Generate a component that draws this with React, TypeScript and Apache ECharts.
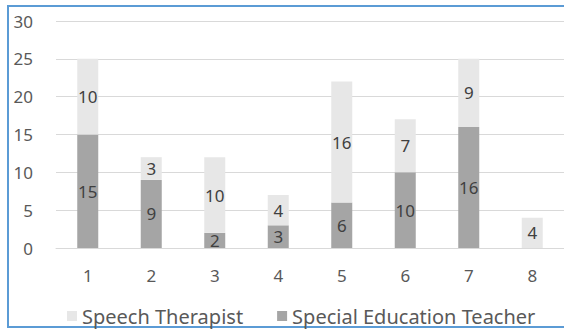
import React, { useEffect, useRef } from "react";
import * as echarts from "echarts";

const categories = ["1", "2", "3", "4", "5", "6", "7", "8"];
const specialEducationTeacher = [15, 9, 2, 3, 6, 10, 16, 0];
const speechTherapist = [10, 3, 10, 4, 16, 7, 9, 4];
const yTicks = { min: 0, max: 30, interval: 5 };

const FONT = "Noto Sans";

export default function App() {
  const ref = useRef<HTMLDivElement>(null);
  useEffect(() => {
    document.body.style.margin = "0";
    const chart = echarts.init(ref.current!, undefined, { renderer: "svg" });
    const label = {
      show: true,
      position: "inside",
      color: "#404040",
      fontFamily: FONT,
      fontSize: 17,
      formatter: (p: any) => (p.value ? String(p.value) : ""),
    };
    chart.setOption({
      animation: false,
      backgroundColor: "#ffffff",
      graphic: [
        {
          type: "rect",
          shape: { x: 8, y: 6, width: 600, height: 321 },
          style: { fill: "none", stroke: "#5B9BD5", lineWidth: 2 },
          silent: true,
          z: -1,
        },
      ],
      grid: { left: 56, top: 21, width: 520, height: 227 },
      legend: {
        left: 62,
        top: 301,
        itemWidth: 10,
        itemHeight: 10,
        itemGap: 34,
        icon: "rect",
        data: ["Speech Therapist", "Special Education Teacher"],
        textStyle: { color: "#595959", fontFamily: FONT, fontSize: 20 },
      },
      xAxis: {
        type: "category",
        data: categories,
        axisLine: { lineStyle: { color: "#D9D9D9" } },
        axisTick: { show: false },
        axisLabel: { color: "#595959", fontFamily: FONT, fontSize: 17, margin: 19 },
      },
      yAxis: {
        type: "value",
        min: yTicks.min,
        max: yTicks.max,
        interval: yTicks.interval,
        axisLine: { show: false },
        axisTick: { show: false },
        splitLine: { lineStyle: { color: "#D9D9D9" } },
        axisLabel: { color: "#595959", fontFamily: FONT, fontSize: 17, margin: 23 },
      },
      series: [
        {
          name: "Special Education Teacher",
          type: "bar",
          stack: "total",
          data: specialEducationTeacher,
          barWidth: 21,
          itemStyle: { color: "#A5A5A5" },
          label,
        },
        {
          name: "Speech Therapist",
          type: "bar",
          stack: "total",
          data: speechTherapist,
          barWidth: 21,
          itemStyle: { color: "#E7E7E7" },
          label,
        },
      ],
    });
    return () => chart.dispose();
  }, []);
  return <div ref={ref} style={{ width: 564, height: 329 }} />;
}
